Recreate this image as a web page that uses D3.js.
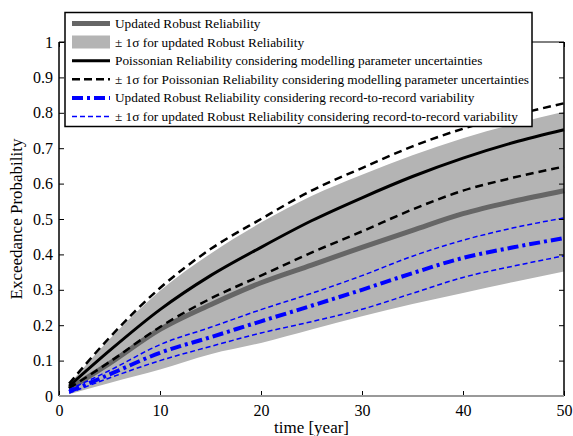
<!DOCTYPE html>
<html>
<head>
<meta charset="utf-8">
<script src="https://cdn.jsdelivr.net/npm/d3@7"></script>
<style>
  body { margin: 0; background: #fff; }
  svg text { font-family: "Liberation Serif", "Times New Roman", Times, serif !important; }
</style>
</head>
<body>
<div id="chart"></div>
<script>
// years at which the curves were read
const years = [1, 5, 10, 15, 20, 25, 30, 35, 40, 45, 50];

// updated robust reliability (thick gray) and its +-1 sigma band
const robust      = [0.020, 0.092, 0.188, 0.258, 0.320, 0.370, 0.420, 0.468, 0.515, 0.550, 0.580];
const robustUpper = [0.033, 0.160, 0.297, 0.402, 0.490, 0.565, 0.625, 0.680, 0.728, 0.768, 0.803];
const robustLower = [0.005, 0.037, 0.075, 0.118, 0.150, 0.188, 0.225, 0.260, 0.291, 0.322, 0.352];

// poissonian reliability and +-1 sigma
const poisson      = [0.028, 0.128, 0.244, 0.340, 0.420, 0.495, 0.560, 0.620, 0.672, 0.716, 0.752];
const poissonUpper = [0.035, 0.165, 0.305, 0.415, 0.500, 0.580, 0.644, 0.705, 0.755, 0.793, 0.827];
const poissonLower = [0.022, 0.096, 0.195, 0.275, 0.340, 0.405, 0.465, 0.527, 0.580, 0.617, 0.648];

// record-to-record variability
const recRobust      = [0.012, 0.061, 0.122, 0.166, 0.211, 0.255, 0.300, 0.347, 0.390, 0.420, 0.446];
const recRobustUpper = [0.018, 0.072, 0.145, 0.194, 0.244, 0.290, 0.340, 0.395, 0.440, 0.475, 0.503];
const recRobustLower = [0.008, 0.051, 0.100, 0.140, 0.178, 0.210, 0.245, 0.290, 0.335, 0.367, 0.396];

const xTicks = [0, 10, 20, 30, 40, 50];
const yTicks = [0, 0.1, 0.2, 0.3, 0.4, 0.5, 0.6, 0.7, 0.8, 0.9, 1];

const legendLabels = [
  "Updated Robust Reliability",
  "\u00b1 1\u03c3 for updated Robust Reliability",
  "Poissonian Reliability considering modelling parameter uncertainties",
  "\u00b1 1\u03c3 for Poissonian Reliability considering modelling parameter uncertainties",
  "Updated Robust Reliability considering record-to-record variability",
  "\u00b1 1\u03c3 for updated Robust Reliability considering record-to-record variability"
];

const width = 573, height = 436,
  margin = { top: 42, right: 9, bottom: 40, left: 59 };
const serif = '"Liberation Serif", "Times New Roman", Times, serif';

const svg = d3.select("#chart").append("svg")
  .attr("width", width)
  .attr("height", height)
  .attr("font-family", serif);

const xScale = d3.scaleLinear()
  .domain([0, 50])
  .range([margin.left, width - margin.right]);

const yScale = d3.scaleLinear()
  .domain([0, 1])
  .range([height - margin.bottom, margin.top]);

const bandColor = "#b4b4b4";

// band
const area = d3.area()
  .curve(d3.curveMonotoneX)
  .x((d, i) => xScale(years[i]))
  .y0((d, i) => yScale(robustLower[i]))
  .y1((d, i) => yScale(robustUpper[i]));

svg.append("path")
  .datum(years)
  .attr("d", area)
  .attr("fill", bandColor);

const line = d3.line()
  .curve(d3.curveMonotoneX)
  .x((d, i) => xScale(years[i]))
  .y(d => yScale(d));

const series = [
  { values: robust, color: "#666666", width: 5, dash: null },
  { values: poisson, color: "#000", width: 3, dash: null },
  { values: poissonUpper, color: "#000", width: 2.5, dash: "8,5" },
  { values: poissonLower, color: "#000", width: 2.5, dash: "8,5" },
  { values: recRobust, color: "#0000ff", width: 4, dash: "11,4,3,4" },
  { values: recRobustUpper, color: "#0000ff", width: 1.5, dash: "5,3" },
  { values: recRobustLower, color: "#0000ff", width: 1.5, dash: "5,3" }
];

svg.selectAll("path.series")
  .data(series)
  .join("path")
  .attr("class", "series")
  .attr("d", d => line(d.values))
  .attr("fill", "none")
  .attr("stroke", d => d.color)
  .attr("stroke-width", d => d.width)
  .attr("stroke-dasharray", d => d.dash);

// axes, ticks pointing inward
const x0 = margin.left, x1 = width - margin.right,
  y0 = height - margin.bottom, y1 = margin.top;

const xAxis = d3.axisBottom(xScale).tickValues(xTicks).tickSize(-5).tickPadding(9).tickFormat(d3.format("d"));
const yAxis = d3.axisLeft(yScale).tickValues(yTicks).tickSize(-5).tickPadding(6).tickFormat(d => d === 0 || d === 1 ? d : d3.format(".1f")(d));

const gx = svg.append("g")
  .attr("transform", `translate(0,${y0})`)
  .call(xAxis)
  .attr("font-family", serif);
gx.select(".domain").remove();
gx.selectAll("text").style("font-size", "16px").attr("fill", "#000");

const gy = svg.append("g")
  .attr("transform", `translate(${x0},0)`)
  .call(yAxis)
  .attr("font-family", serif);
gy.select(".domain").remove();
gy.selectAll("text").style("font-size", "16px").attr("fill", "#000");

const gr = svg.append("g")
  .attr("transform", `translate(${x1},0)`)
  .call(d3.axisRight(yScale).tickValues(yTicks).tickSize(-5).tickFormat(""));
gr.select(".domain").remove();

const gt = svg.append("g")
  .attr("transform", `translate(0,${y1})`)
  .call(d3.axisTop(xScale).tickValues(xTicks).tickSize(-5).tickFormat(""));
gt.select(".domain").remove();

// frame
svg.append("line").attr("x1", x0).attr("x2", x1).attr("y1", y1).attr("y2", y1).attr("stroke", "#000");
svg.append("line").attr("x1", x0).attr("x2", x0).attr("y1", y1).attr("y2", y0).attr("stroke", "#000").attr("stroke-width", 1.5);
svg.append("line").attr("x1", x1).attr("x2", x1).attr("y1", y1).attr("y2", y0).attr("stroke", "#000").attr("stroke-width", 1.5);
svg.append("line").attr("x1", x0).attr("x2", x1).attr("y1", y0).attr("y2", y0).attr("stroke", "#999").attr("stroke-width", 2);

// axis labels
svg.append("text")
  .attr("x", (x0 + x1) / 2)
  .attr("y", 433)
  .attr("text-anchor", "middle")
  .style("font-size", "17px")
  .text("time [year]");

svg.append("text")
  .attr("transform", `translate(22,${(y0 + y1) / 2}) rotate(-90)`)
  .attr("text-anchor", "middle")
  .style("font-size", "17px")
  .text("Exceedance Probability");

// legend
const legend = svg.append("g");
legend.append("rect")
  .attr("x", 65).attr("y", 12.5)
  .attr("width", 467).attr("height", 114)
  .attr("fill", "#fff")
  .attr("stroke", "#000")
  .attr("stroke-width", 1.5);

const legendItems = [
  { color: "#666666", width: 5, dash: null },
  { color: bandColor, width: 13, dash: null },
  { color: "#000", width: 3, dash: null },
  { color: "#000", width: 2.5, dash: "8,4" },
  { color: "#0000ff", width: 4, dash: "11,4,3,4" },
  { color: "#0000ff", width: 1.5, dash: "5,3" }
];

const rowY = d3.scaleLinear().domain([0, 5]).range([23.5, 116.5]);

legendItems.forEach((d, i) => {
  legend.append("line")
    .attr("x1", 72).attr("x2", 110)
    .attr("y1", rowY(i)).attr("y2", rowY(i))
    .attr("stroke", d.color)
    .attr("stroke-width", d.width)
    .attr("stroke-dasharray", d.dash);
  legend.append("text")
    .attr("x", 115)
    .attr("y", rowY(i) + 4.5)
    .style("font-size", "13.3px")
    .text(legendLabels[i]);
});
</script>
</body>
</html>
